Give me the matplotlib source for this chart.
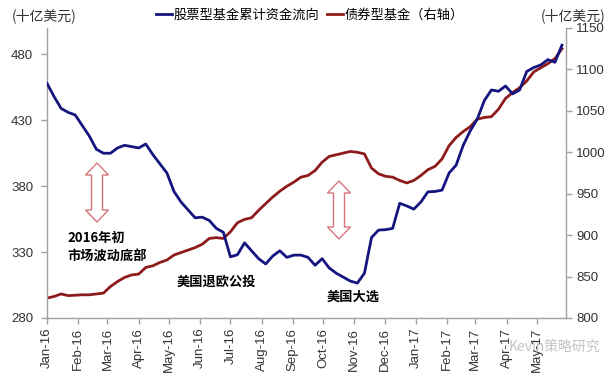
import matplotlib
matplotlib.use("Agg")
import matplotlib.pyplot as plt
import matplotlib.dates as mdates
from matplotlib.patches import Polygon
from matplotlib.lines import Line2D
import pandas as pd

plt.rcParams['font.family'] = ['Liberation Sans', 'Noto Sans CJK SC', 'DejaVu Sans']
CJK = ['Noto Sans CJK SC', 'DejaVu Sans']

# ---- data (weekly) ----
dates = pd.date_range('2016-01-01', periods=74, freq='7D')
equity_flow = [458, 448, 439, 436, 434, 426, 418, 408, 405, 405,
               409, 411, 410, 409, 412, 404, 397, 390, 376, 368,
               362, 356, 356.5, 354, 348, 345, 326.4, 328, 337, 331,
               325, 321, 327, 331, 326, 327.7, 327.7, 326, 320, 325,
               318, 314, 311, 308, 306.5, 314, 341, 346.7, 347, 348,
               367, 365, 362.6, 368, 375.7, 376, 377, 390, 396, 411,
               422, 431, 445, 453, 452, 456, 450, 453, 467, 470,
               472, 476, 474, 487]
bond_fund = [824, 826, 829, 827, 827.5, 828, 828, 829, 830, 838,
             844, 849, 852, 853, 861, 863, 867, 870, 876, 879,
             882, 885, 889, 896, 897, 896, 904, 915, 919, 921,
             930, 938, 946, 953, 959, 964, 970, 972, 978, 988,
             995, 997, 999, 1001, 1000, 998, 981, 974, 971, 970,
             966, 963, 966, 972, 979, 983, 992, 1008, 1018, 1025,
             1031, 1040, 1042, 1043, 1052, 1065, 1072, 1078, 1086, 1097,
             1102, 1107, 1113, 1125]
series_names = ['股票型基金累计资金流向', '债券型基金（右轴）']
left_ticks = [280, 330, 380, 430, 480]
right_ticks = [800, 850, 900, 950, 1000, 1050, 1100, 1150]
ann_texts = ['2016年初\n市场波动底部', '美国退欧公投', '美国大选']

BLUE = '#14157e'
RED = '#8e1b1b'
GREY = '#a0a0a0'

W, H = 609, 374
fig = plt.figure(figsize=(W / 100, H / 100), dpi=100)
fig.patch.set_facecolor('white')
ax = fig.add_axes([47 / W, 1 - 318 / H, (566 - 47) / W, (318 - 28) / H])
ax2 = ax.twinx()

ax.plot(dates, equity_flow, color=BLUE, lw=2.0, zorder=3)
ax2.plot(dates, bond_fund, color=RED, lw=2.0, zorder=2)
ax.set_zorder(ax2.get_zorder() + 1)
ax.patch.set_visible(False)

ax.set_ylim(280, 500)
ax2.set_ylim(800, 1150)
ax.set_xlim(pd.Timestamp('2016-01-01'), pd.Timestamp('2017-05-30'))
ax.set_yticks(left_ticks)
ax2.set_yticks(right_ticks)
ax.xaxis.set_major_locator(mdates.MonthLocator())
ax.xaxis.set_major_formatter(mdates.DateFormatter('%b-%y'))

for a in (ax, ax2):
    a.spines['top'].set_visible(False)
    for s in ('left', 'right', 'bottom'):
        a.spines[s].set_color(GREY)
        a.spines[s].set_linewidth(1.0)
    a.tick_params(colors=GREY, labelcolor='#333333', labelsize=9.5,
                  length=4, width=1)
ax.spines['right'].set_visible(False)
ax2.spines['left'].set_visible(False)
ax2.spines['bottom'].set_visible(False)
for lab in ax.get_xticklabels():
    lab.set_rotation(90)
ax.tick_params(axis='x', pad=3)
ax.tick_params(axis='y', pad=6)

# header texts
fig.text(12 / W, 1 - 16 / H, '(十亿美元)', family=CJK, fontsize=10,
         color='#333333', va='center', ha='left')
fig.text(605 / W, 1 - 16 / H, '(十亿美元)', family=CJK, fontsize=10,
         color='#333333', va='center', ha='right')
handles = [Line2D([], [], color=BLUE, lw=2), Line2D([], [], color=RED, lw=2)]
fig.legend(handles, series_names, loc='center', bbox_to_anchor=(310 / W, 1 - 15 / H),
           ncol=2, frameon=False, handlelength=1.2, handletextpad=0.1,
           columnspacing=0.6, prop={'family': CJK, 'size': 9.5})

# annotations
fig.text(67 / W, 1 - 247 / H, ann_texts[0], family=CJK, fontsize=9.5,
         fontweight='bold', ha='left', va='center', linespacing=1.3, color='black')
fig.text(177 / W, 1 - 282 / H, ann_texts[1], family=CJK, fontsize=9.5,
         fontweight='bold', ha='left', va='center', color='black')
fig.text(327 / W, 1 - 297 / H, ann_texts[2], family=CJK, fontsize=9.5,
         fontweight='bold', ha='left', va='center', color='black')


def double_arrow(cx, ytop, ybot, head_w=23, head_l=12, shaft_w=11):
    hw, sw = head_w / 2, shaft_w / 2
    pts = [(cx, ytop), (cx + hw, ytop + head_l), (cx + sw, ytop + head_l),
           (cx + sw, ybot - head_l), (cx + hw, ybot - head_l), (cx, ybot),
           (cx - hw, ybot - head_l), (cx - sw, ybot - head_l),
           (cx - sw, ytop + head_l), (cx - hw, ytop + head_l)]
    pts = [(x / W, 1 - y / H) for x, y in pts]
    fig.patches.append(Polygon(pts, closed=True, transform=fig.transFigure,
                               facecolor='white', edgecolor='#d9747c', lw=1.0))


double_arrow(97, 163, 222)
double_arrow(339, 181, 239)

fig.text(600 / W, 1 - 347 / H, 'Kevin策略研究', family=CJK, fontsize=10,
         color='#c4c4c4', ha='right', va='center', zorder=0)

fig.savefig('out.png', dpi=100)
